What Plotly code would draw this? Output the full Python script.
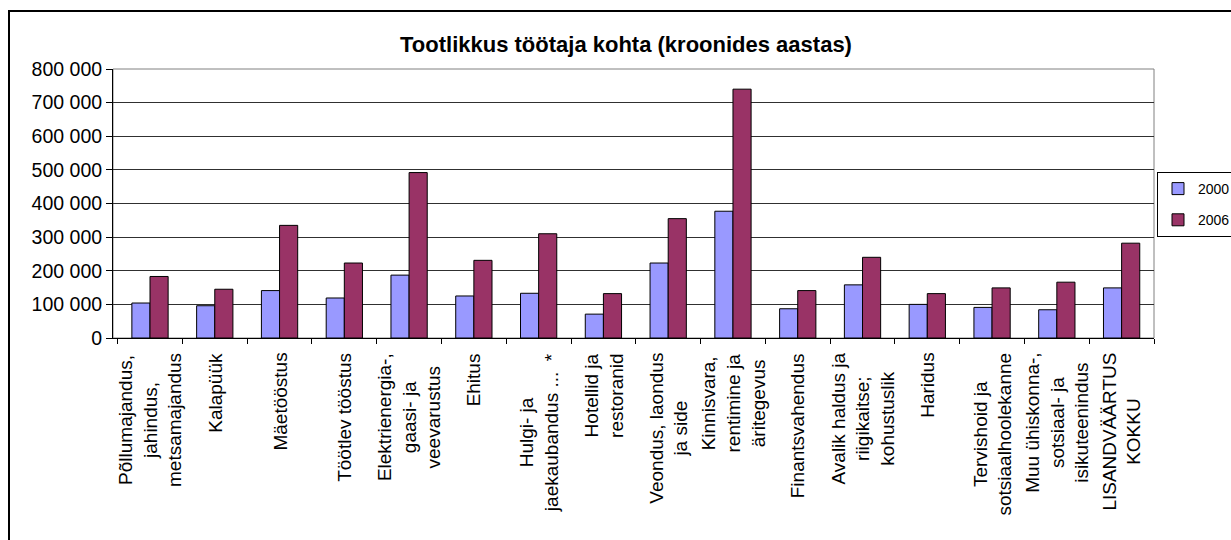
import plotly.graph_objects as go

categories = [
    "Põllumajandus,<br>jahindus,<br>metsamajandus",
    "Kalapüük",
    "Mäetööstus",
    "Töötlev tööstus",
    "Elektrienergia-,<br>gaasi- ja<br>veevarustus",
    "Ehitus",
    "Hulgi- ja<br>jaekaubandus ...\u00a0\u00a0*",
    "Hotellid ja<br>restoranid",
    "Veondus, laondus<br>ja side",
    "Kinnisvara,<br>rentimine ja<br>äritegevus",
    "Finantsvahendus",
    "Avalik haldus ja<br>riigikaitse;<br>kohustuslik",
    "Haridus",
    "Tervishoid ja<br>sotsiaalhoolekanne",
    "Muu ühiskonna-,<br>sotsiaal- ja<br>isikuteenindus",
    "LISANDVÄÄRTUS<br>KOKKU",
]
values_2000 = [104000, 96000, 141000, 119000, 187000, 125000, 133000, 71000,
               223000, 377000, 87000, 158000, 100000, 91000, 84000, 149000]
values_2006 = [183000, 145000, 335000, 223000, 492000, 231000, 310000, 132000,
               355000, 740000, 141000, 240000, 132000, 149000, 166000, 282000]
series_names = ["2000", "2006"]
title_text = "Tootlikkus töötaja kohta (kroonides aastas)"

FONT = "Liberation Sans, Arial, sans-serif"
W, H = 1231, 540
L, R, T, B = 113, 1154, 69, 338
pw, ph = R - L, B - T

def px(x):
    return (x - L) / pw

def py(y):
    return (B - y) / ph

fig = go.Figure()
fig.add_trace(go.Bar(x=categories, y=values_2000, name=series_names[0],
                     marker=dict(color="#9999FF", line=dict(color="#000000", width=1)),
                     legendgroup="a"))
fig.add_trace(go.Bar(x=categories, y=values_2006, name=series_names[1],
                     marker=dict(color="#993366", line=dict(color="#000000", width=1)),
                     legendgroup="b"))

annotations = []
for c in categories:
    annotations.append(dict(x=c, xref="x", y=py(351), yref="paper",
                            text=c, showarrow=False, textangle=-90,
                            xanchor="center", yanchor="top", align="center",
                            font=dict(family=FONT, size=19, color="#000000")))

shapes = [
    dict(type="rect", xref="paper", yref="paper", x0=0, x1=1, y0=0, y1=1,
         line=dict(color="#808080", width=1), layer="below"),
    dict(type="rect", xref="paper", yref="paper",
         x0=px(9), x1=px(1245), y0=py(560), y1=py(11),
         line=dict(color="#000000", width=2), fillcolor="rgba(0,0,0,0)"),
]

fig.update_layout(
    width=W, height=H,
    margin=dict(l=L, r=W - R, t=T, b=H - B, autoexpand=False),
    paper_bgcolor="white", plot_bgcolor="white",
    separators=". ",
    barmode="group", bargap=0.44, bargroupgap=0,
    font=dict(family=FONT, size=19, color="#000000"),
    title=dict(text=title_text, x=626 / W, xanchor="center", xref="container",
               y=1 - 44 / H, yanchor="middle", yref="container",
               font=dict(family=FONT, size=22, color="#000000", weight="bold")),
    legend=dict(x=px(1157), y=py(172), xanchor="left", yanchor="top",
                bordercolor="#000000", borderwidth=1, bgcolor="white",
                font=dict(family=FONT, size=14), tracegroupgap=10,
                traceorder="grouped", itemwidth=30),
    annotations=annotations,
    shapes=shapes,
    showlegend=True,
)
fig.update_xaxes(type="category", showticklabels=False, ticks="outside",
                 tickson="boundaries", ticklen=5, tickcolor="#000000",
                 showline=True, linecolor="#000000", linewidth=1,
                 showgrid=False, automargin=False)
fig.update_yaxes(range=[0, 800000], dtick=100000, tickformat=",d",
                 ticks="outside", ticklen=6, tickcolor="#000000",
                 showline=True, linecolor="#000000", linewidth=1,
                 showgrid=True, gridcolor="#303030", gridwidth=1,
                 zeroline=False, automargin=False,
                 tickfont=dict(family=FONT, size=19.5))

fig.write_html("out.html", config={"displayModeBar": False},
               post_script="document.body.style.margin='0px';")
